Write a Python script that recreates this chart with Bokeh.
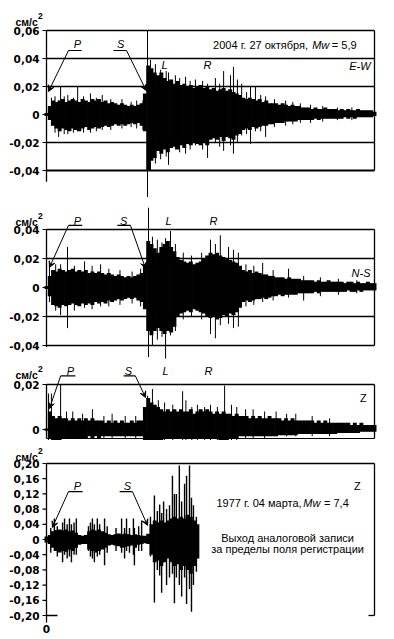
from bokeh.plotting import figure
from bokeh.layouts import column
from bokeh.models import Range1d, Label, Arrow, VeeHead
from bokeh.core.properties import value
from bokeh.embed import file_html
from bokeh.resources import INLINE

# ---------------- data (time in s, acceleration in cm/s^2) ----------------
t_grid = list(range(0, 101))

ew_hi = [0.001, 0.006, 0.010, 0.009, 0.010, 0.011, 0.009, 0.010, 0.011, 0.010,
         0.009, 0.011, 0.010, 0.009, 0.011, 0.010, 0.011, 0.009, 0.010, 0.008,
         0.009, 0.008, 0.007, 0.008, 0.007, 0.006, 0.007, 0.006, 0.007, 0.008,
         0.015, 0.035, 0.033, 0.030, 0.028, 0.030, 0.026, 0.024, 0.025, 0.022,
         0.024, 0.021, 0.022, 0.020, 0.021, 0.019, 0.020, 0.021, 0.019, 0.020,
         0.018, 0.019, 0.017, 0.018, 0.019, 0.017, 0.018, 0.016, 0.015, 0.014,
         0.012, 0.011, 0.012, 0.011, 0.010, 0.011, 0.009, 0.010, 0.008, 0.008,
         0.008, 0.007, 0.008, 0.007, 0.006, 0.007, 0.006, 0.006, 0.005, 0.005,
         0.005, 0.004, 0.005, 0.004, 0.004, 0.005, 0.004, 0.004, 0.004, 0.003,
         0.004, 0.003, 0.004, 0.003, 0.003, 0.004, 0.003, 0.003, 0.003, 0.003, 0.002]
ew_lo = [-0.001, -0.004, -0.008, -0.010, -0.012, -0.010, -0.011, -0.012, -0.010, -0.011,
         -0.012, -0.010, -0.009, -0.011, -0.010, -0.009, -0.010, -0.009, -0.008, -0.009,
         -0.008, -0.007, -0.008, -0.007, -0.008, -0.007, -0.006, -0.007, -0.006, -0.008,
         -0.012, -0.040, -0.033, -0.031, -0.026, -0.028, -0.025, -0.027, -0.024, -0.023,
         -0.025, -0.022, -0.024, -0.021, -0.022, -0.020, -0.021, -0.022, -0.020, -0.022,
         -0.018, -0.017, -0.018, -0.016, -0.019, -0.016, -0.017, -0.018, -0.015, -0.014,
         -0.011, -0.010, -0.011, -0.009, -0.010, -0.009, -0.008, -0.008, -0.007, -0.007,
         -0.006, -0.006, -0.006, -0.005, -0.005, -0.005, -0.005, -0.004, -0.004, -0.004,
         -0.004, -0.004, -0.003, -0.004, -0.003, -0.003, -0.003, -0.003, -0.003, -0.003,
         -0.003, -0.002, -0.003, -0.002, -0.003, -0.002, -0.002, -0.002, -0.002, -0.002, -0.001]
ew_spike_t = [1.5, 2.6, 3.7, 4.3, 5.4, 6.5, 8.2, 9.5, 11.3, 13.4, 15.2, 17.0, 19.6, 23.0,
              25.8, 27.5, 29.4, 30.8, 31.7, 33.2, 34.8, 36.5, 37.2, 39.3, 40.6, 42.4, 43.8,
              45.4, 47.6, 49.1, 51.5, 52.8, 54.0, 56.1, 57.0, 58.2, 59.5, 61.0, 62.2,
              63.7, 65.3, 66.8, 69.5, 72.9, 75.1, 77.4, 80.5, 84.2, 88.7, 93.1]
ew_spike_hi = [0.012, 0.013, 0.010, 0.020, 0.013, 0.014, 0.012, 0.020, 0.013, 0.015,
               0.012, 0.014, 0.011, 0.011, 0.009, 0.010, 0.010, 0.060, 0.039, 0.036,
               0.032, 0.031, 0.030, 0.028, 0.026, 0.027, 0.024, 0.025, 0.024, 0.022,
               0.026, 0.022, 0.031, 0.028, 0.034, 0.025, 0.022, 0.016, 0.020, 0.020,
               0.014, 0.013, 0.011, 0.010, 0.009, 0.008, 0.007, 0.006, 0.005, 0.005]
ew_spike_lo = [-0.008, -0.013, -0.016, -0.012, -0.014, -0.014, -0.013, -0.012, -0.013, -0.013,
               -0.012, -0.011, -0.011, -0.010, -0.009, -0.010, -0.011, -0.059, -0.040, -0.035,
               -0.032, -0.030, -0.036, -0.025, -0.027, -0.028, -0.025, -0.022, -0.025, -0.031,
               -0.020, -0.023, -0.026, -0.022, -0.028, -0.020, -0.015, -0.014, -0.021, -0.012,
               -0.012, -0.016, -0.009, -0.008, -0.007, -0.006, -0.006, -0.005, -0.004, -0.004]

ns_hi = [0.001, 0.008, 0.012, 0.011, 0.013, 0.012, 0.011, 0.012, 0.013, 0.011,
         0.012, 0.011, 0.012, 0.010, 0.011, 0.010, 0.011, 0.010, 0.009, 0.010,
         0.009, 0.008, 0.009, 0.008, 0.007, 0.008, 0.007, 0.008, 0.009, 0.010,
         0.016, 0.032, 0.030, 0.027, 0.024, 0.028, 0.030, 0.032, 0.028, 0.025,
         0.021, 0.019, 0.018, 0.017, 0.018, 0.016, 0.017, 0.018, 0.020, 0.022,
         0.024, 0.023, 0.024, 0.022, 0.021, 0.020, 0.019, 0.018, 0.017, 0.015,
         0.012, 0.011, 0.012, 0.010, 0.011, 0.010, 0.009, 0.009, 0.008, 0.008,
         0.007, 0.007, 0.007, 0.006, 0.007, 0.006, 0.006, 0.006, 0.005, 0.005,
         0.005, 0.005, 0.004, 0.005, 0.004, 0.004, 0.005, 0.004, 0.004, 0.004,
         0.004, 0.003, 0.004, 0.004, 0.003, 0.004, 0.003, 0.003, 0.004, 0.003, 0.003]
ns_lo = [-0.001, -0.006, -0.012, -0.013, -0.014, -0.012, -0.013, -0.012, -0.011, -0.012,
         -0.013, -0.011, -0.012, -0.011, -0.012, -0.010, -0.011, -0.010, -0.011, -0.009,
         -0.010, -0.009, -0.008, -0.009, -0.008, -0.007, -0.008, -0.007, -0.009, -0.010,
         -0.015, -0.030, -0.033, -0.030, -0.028, -0.030, -0.032, -0.030, -0.031, -0.027,
         -0.020, -0.018, -0.017, -0.016, -0.017, -0.015, -0.016, -0.017, -0.018, -0.020,
         -0.021, -0.020, -0.022, -0.021, -0.019, -0.020, -0.018, -0.019, -0.017, -0.014,
         -0.010, -0.009, -0.010, -0.009, -0.008, -0.008, -0.007, -0.008, -0.007, -0.006,
         -0.006, -0.005, -0.006, -0.005, -0.005, -0.005, -0.005, -0.004, -0.004, -0.004,
         -0.004, -0.004, -0.003, -0.004, -0.003, -0.003, -0.003, -0.003, -0.003, -0.003,
         -0.003, -0.003, -0.002, -0.003, -0.003, -0.002, -0.003, -0.002, -0.002, -0.002, -0.002]
ns_spike_t = [0.9, 2.8, 4.3, 6.4, 8.5, 11.6, 13.9, 16.5, 19.0, 22.4, 26.1, 28.7, 31.1, 32.3,
              33.8, 35.2, 36.3, 37.8, 39.3, 41.7, 44.2, 47.3, 50.0, 51.5, 53.0, 55.5, 57.0,
              58.5, 60.8, 63.2, 65.9, 69.1, 73.8, 78.4, 83.5, 89.0, 94.6]
ns_spike_hi = [0.015, 0.016, 0.016, 0.028, 0.015, 0.018, 0.015, 0.016, 0.013, 0.012,
               0.011, 0.013, 0.055, 0.035, 0.033, 0.031, 0.034, 0.039, 0.030, 0.024,
               0.022, 0.024, 0.033, 0.030, 0.036, 0.028, 0.026, 0.024, 0.016, 0.015,
               0.017, 0.012, 0.013, 0.008, 0.007, 0.006, 0.005]
ns_spike_lo = [-0.010, -0.016, -0.019, -0.028, -0.016, -0.014, -0.015, -0.013, -0.013, -0.012,
               -0.011, -0.013, -0.048, -0.040, -0.036, -0.034, -0.049, -0.033, -0.030, -0.022,
               -0.020, -0.022, -0.032, -0.035, -0.026, -0.025, -0.028, -0.027, -0.013, -0.012,
               -0.010, -0.009, -0.007, -0.009, -0.006, -0.005, -0.004]

z_hi = [0.0005, 0.008, 0.006, 0.005, 0.006, 0.005, 0.005, 0.004, 0.005, 0.004,
        0.005, 0.004, 0.005, 0.004, 0.005, 0.004, 0.004, 0.004, 0.003, 0.004,
        0.003, 0.004, 0.003, 0.004, 0.003, 0.003, 0.004, 0.003, 0.004, 0.004,
        0.010, 0.014, 0.012, 0.011, 0.010, 0.009, 0.008, 0.009, 0.008, 0.009,
        0.008, 0.009, 0.008, 0.008, 0.009, 0.007, 0.008, 0.009, 0.008, 0.009,
        0.008, 0.007, 0.008, 0.007, 0.008, 0.007, 0.007, 0.006, 0.007, 0.006,
        0.006, 0.006, 0.005, 0.006, 0.005, 0.006, 0.005, 0.005, 0.006, 0.005,
        0.005, 0.005, 0.004, 0.005, 0.004, 0.005, 0.004, 0.004, 0.004, 0.004,
        0.004, 0.004, 0.003, 0.004, 0.003, 0.004, 0.003, 0.003, 0.003, 0.003,
        0.003, 0.003, 0.003, 0.002, 0.003, 0.002, 0.003, 0.002, 0.002, 0.002, 0.002]
z_lo = [-0.0005, -0.004, -0.005, -0.005, -0.005, -0.004, -0.004, -0.004, -0.004, -0.004,
        -0.004, -0.004, -0.004, -0.003, -0.004, -0.003, -0.004, -0.003, -0.003, -0.003,
        -0.003, -0.003, -0.003, -0.003, -0.003, -0.003, -0.003, -0.003, -0.003, -0.003,
        -0.005, -0.005, -0.005, -0.005, -0.005, -0.005, -0.004, -0.004, -0.004, -0.004,
        -0.004, -0.004, -0.004, -0.004, -0.004, -0.004, -0.004, -0.004, -0.004, -0.004,
        -0.004, -0.004, -0.004, -0.005, -0.005, -0.005, -0.004, -0.004, -0.004, -0.003,
        -0.003, -0.003, -0.003, -0.003, -0.003, -0.003, -0.003, -0.003, -0.003, -0.003,
        -0.003, -0.0025, -0.0025, -0.0025, -0.0025, -0.0025, -0.0025, -0.002, -0.002, -0.002,
        -0.002, -0.002, -0.002, -0.002, -0.002, -0.002, -0.002, -0.002, -0.002, -0.0015,
        -0.0015, -0.0015, -0.0015, -0.0015, -0.0015, -0.0015, -0.001, -0.001, -0.001, -0.001, -0.001]
z_spike_t = [0.6, 1.5, 4.3, 6.1, 8.0, 11.0, 14.0, 17.5, 20.0, 24.0, 27.2, 30.8, 32.3, 34.1,
             36.0, 38.5, 41.5, 42.5, 44.3, 46.0, 48.2, 50.0, 52.1, 54.3, 56.4, 58.0, 60.7,
             63.0, 66.5, 70.0, 73.2, 76.0, 81.0, 86.3]
z_spike_hi = [0.016, 0.016, 0.020, 0.008, 0.008, 0.007, 0.009, 0.006, 0.007, 0.006, 0.006,
              0.015, 0.018, 0.013, 0.012, 0.011, 0.017, 0.013, 0.010, 0.011, 0.010, 0.011,
              0.010, 0.0195, 0.011, 0.010, 0.009, 0.009, 0.008, 0.008, 0.007, 0.007, 0.006,
              0.005]
z_spike_lo = [-0.005, -0.005, -0.005, -0.004, -0.004, -0.004, -0.004, -0.004, -0.004, -0.004,
              -0.004, -0.005, -0.005, -0.005, -0.005, -0.005, -0.005, -0.005, -0.005, -0.005,
              -0.005, -0.005, -0.005, -0.005, -0.005, -0.005, -0.004, -0.004, -0.004, -0.003,
              -0.003, -0.003, -0.003, -0.003]

t77_grid = list(range(0, 47))
z77_hi = [0.008, 0.012, 0.022, 0.025, 0.026, 0.024, 0.026, 0.022, 0.024, 0.018,
          0.012, 0.010, 0.012, 0.022, 0.026, 0.024, 0.026, 0.022, 0.018, 0.014,
          0.012, 0.014, 0.016, 0.014, 0.016, 0.014, 0.012, 0.014, 0.012, 0.010,
          0.010, 0.015, 0.040, 0.050, 0.045, 0.050, 0.045, 0.050, 0.055, 0.060,
          0.055, 0.060, 0.055, 0.065, 0.060, 0.050, 0.040]
z77_lo = [-0.008, -0.012, -0.022, -0.030, -0.034, -0.030, -0.032, -0.026, -0.030, -0.022,
          -0.014, -0.012, -0.012, -0.026, -0.030, -0.034, -0.030, -0.026, -0.022, -0.016,
          -0.014, -0.016, -0.018, -0.022, -0.020, -0.018, -0.016, -0.022, -0.014, -0.012,
          -0.010, -0.012, -0.040, -0.060, -0.055, -0.070, -0.060, -0.050, -0.060, -0.070,
          -0.065, -0.080, -0.070, -0.080, -0.090, -0.070, -0.050]
z77_spike_t = [1.3, 2.4, 3.3, 4.9, 5.5, 6.3, 7.0, 7.6, 8.4, 9.1, 12.8, 13.4, 14.0, 14.6,
               15.5, 16.2, 17.7, 18.5, 21.2, 22.9, 23.8, 24.4, 25.3, 26.5, 26.8, 28.1,
               29.0, 31.7, 32.9, 33.8, 34.5, 35.1, 35.7, 36.6, 37.5, 38.4, 39.0, 39.6,
               40.5, 41.2, 42.1, 42.7, 43.6, 44.2, 44.8, 45.7]
z77_spike_hi = [0.030, 0.055, 0.035, 0.045, 0.055, 0.040, 0.055, 0.040, 0.045, 0.055, 0.035,
                0.045, 0.055, 0.040, 0.055, 0.040, 0.055, 0.035, 0.030, 0.055, 0.030, 0.055,
                0.030, 0.055, 0.030, 0.035, 0.050, 0.060, 0.116, 0.075, 0.092, 0.070, 0.100,
                0.080, 0.090, 0.168, 0.120, 0.120, 0.195, 0.100, 0.147, 0.168, 0.195, 0.110,
                0.090, 0.060]
z77_spike_lo = [-0.035, -0.030, -0.045, -0.060, -0.040, -0.050, -0.045, -0.060, -0.040, -0.040,
                -0.030, -0.045, -0.050, -0.060, -0.045, -0.040, -0.068, -0.035, -0.030, -0.035,
                -0.050, -0.030, -0.035, -0.040, -0.068, -0.030, -0.030, -0.045, -0.166, -0.080,
                -0.095, -0.140, -0.060, -0.120, -0.100, -0.090, -0.168, -0.100, -0.120, -0.150,
                -0.100, -0.170, -0.130, -0.190, -0.120, -0.085]

ew_ticks = [0.06, 0.04, 0.02, 0, -0.02, -0.04]
ns_ticks = [0.04, 0.02, 0, -0.02, -0.04]
z_ticks = [0.02, 0]
z77_ticks = [0.20, 0.16, 0.12, 0.08, 0.04, 0, -0.04, -0.08, -0.12, -0.16, -0.20]
time_ticks = [0]

T_END = 100
PX_PER_S = 3.28          # horizontal scale: 1 s of record = 3.28 px
LEFT_PX = 46             # where t = 0 sits
FONT = "Liberation Sans"
TICKFONT = "DejaVu Sans"
TICK_LEN = 4 / PX_PER_S
LAB_GAP = 7 / PX_PER_S


def tick_text(v):
    return "0" if abs(v) < 1e-12 else f"{v:.2f}".replace(".", ",")


def make_fig(height, ystart, yend):
    x0 = -LEFT_PX / PX_PER_S
    p = figure(width=394, height=height,
               x_range=Range1d(x0, x0 + 394 / PX_PER_S),
               y_range=Range1d(ystart, yend), x_axis_type=None, y_axis_type=None,
               output_backend="svg", toolbar_location=None, title=None,
               min_border=0)
    p.outline_line_color = None
    p.background_fill_color = "white"
    p.border_fill_color = "white"
    return p


def y_axis(p, ticks, bounds):
    p.line(x=[0, 0], y=list(bounds), line_color="black", line_width=1.3)
    p.segment(x0=[-TICK_LEN] * len(ticks), y0=ticks, x1=[0] * len(ticks), y1=ticks,
              line_color="black", line_width=1.2)
    p.text(x=[-LAB_GAP] * len(ticks), y=ticks, text=[tick_text(v) for v in ticks],
           text_font=value(TICKFONT), text_font_size="10.5px", text_font_style="bold",
           text_align="right", text_baseline="middle", text_color="black")


def units(p, y_base, y_sup):
    p.text(x=[-31 / PX_PER_S], y=[y_base], text=["см/с"], text_font=value(FONT),
           text_font_size="10.5px", text_font_style="bold", text_align="left",
           text_baseline="alphabetic", text_color="black")
    p.text(x=[-8.5 / PX_PER_S], y=[y_sup], text=["2"], text_font=value(FONT),
           text_font_size="8.5px", text_font_style="bold", text_align="left",
           text_baseline="alphabetic", text_color="black")


def wave(p, t, hi, lo, st, shi, slo, spike_w=1.0, core_w=1.2):
    p.vbar(x=t, width=core_w, top=hi, bottom=lo, fill_color="black", line_color=None)
    p.segment(x0=st, y0=slo, x1=st, y1=shi, line_color="black", line_width=spike_w)


def hlines(p, levels, width=1.3):
    for lv in levels:
        p.line(x=[0, T_END], y=[lv, lv], line_color="black", line_width=width)


def right_edge(p, lo, hi):
    p.line(x=[T_END, T_END], y=[lo, hi], line_color="black", line_width=1.3)


def txt(p, x, y, s, size="11px", style="normal", align="left", baseline="middle"):
    p.add_layout(Label(x=x, y=y, text=s, text_font=FONT, text_font_size=size,
                       text_font_style=style, text_align=align, text_baseline=baseline,
                       text_color="black"))


def phase(p, ul_x0, ul_x1, ul_y, tip_x, tip_y, from_left):
    p.line(x=[ul_x0, ul_x1], y=[ul_y, ul_y], line_color="black", line_width=1.2)
    sx = ul_x0 if from_left else ul_x1
    p.add_layout(Arrow(end=VeeHead(size=6, line_width=1, fill_color="black", line_color="black"),
                       x_start=sx, y_start=ul_y, x_end=tip_x, y_end=tip_y,
                       line_color="black", line_width=1))


# ---------------- panel 1 : E-W  (figure rows 0..200 px) ----------------
p1 = make_fig(200, (114 - 200) / 1400, 114 / 1400)
wave(p1, t_grid, ew_hi, ew_lo, ew_spike_t, ew_spike_hi, ew_spike_lo)
hlines(p1, [0.06, 0.04, 0.02, -0.02])
hlines(p1, [-0.04], width=2.2)
right_edge(p1, -0.04, 0.06)
y_axis(p1, ew_ticks, (-0.048, 0.06))
units(p1, 0.0664, 0.0707)
txt(p1, 9.45, 0.0507, "P", style="italic", align="center")
txt(p1, 22.6, 0.0507, "S", style="italic", align="center")
phase(p1, 6.7, 10.7, 0.0457, 0.6, 0.0164, True)
phase(p1, 20.4, 24.4, 0.0457, 30.4, 0.0171, False)
txt(p1, 36.0, 0.0357, "L", style="italic", align="center")
txt(p1, 49.1, 0.0357, "R", style="italic", align="center")
txt(p1, 50.8, 0.0493, "2004 г. 27 октября,")
txt(p1, 81.0, 0.0493, "Mw", style="italic")
txt(p1, 87.0, 0.0493, "= 5,9")
txt(p1, 98.8, 0.0343, "E-W", style="italic", align="right")

# ---------------- panel 2 : N-S  (rows 200..362 px) ----------------
p2 = make_fig(162, (287 - 362) / 1450, (287 - 200) / 1450)
wave(p2, t_grid, ns_hi, ns_lo, ns_spike_t, ns_spike_hi, ns_spike_lo)
hlines(p2, [0.04, 0.02, -0.02, -0.04])
right_edge(p2, -0.04, 0.04)
y_axis(p2, ns_ticks, (-0.041, 0.04))
units(p2, 0.0455, 0.0490)
txt(p2, 9.45, 0.0462, "P", style="italic", align="center")
txt(p2, 23.5, 0.0462, "S", style="italic", align="center")
phase(p2, 6.7, 10.9, 0.0428, 0.9, 0.0138, True)
phase(p2, 21.6, 25.6, 0.0428, 30.2, 0.0131, False)
txt(p2, 37.2, 0.0462, "L", style="italic", align="center")
txt(p2, 50.9, 0.0462, "R", style="italic", align="center")
txt(p2, 98.8, 0.0103, "N-S", style="italic", align="right")

# ---------------- panel 3 : Z  (rows 362..440 px) ----------------
p3 = make_fig(78, (429 - 440) / 2250, (429 - 362) / 2250)
wave(p3, t_grid, z_hi, z_lo, z_spike_t, z_spike_hi, z_spike_lo)
hlines(p3, [0.02])
hlines(p3, [-0.004], width=1.0)
right_edge(p3, -0.004, 0.02)
y_axis(p3, z_ticks, (-0.004, 0.02))
units(p3, 0.0244, 0.0268)
txt(p3, 7.3, 0.0262, "P", style="italic", align="center")
txt(p3, 25.0, 0.0262, "S", style="italic", align="center")
phase(p3, 4.3, 8.8, 0.0238, 0.9, 0.0093, True)
phase(p3, 23.5, 27.1, 0.0238, 30.2, 0.0142, False)
txt(p3, 36.3, 0.0262, "L", style="italic", align="center")
txt(p3, 49.4, 0.0262, "R", style="italic", align="center")
txt(p3, 96.6, 0.0138, "Z", align="center")

# ---------------- panel 4 : 1977 Z  (rows 440..639 px) ----------------
p4 = make_fig(199, (539 - 639) / 380, (539 - 440) / 380)
wave(p4, t77_grid, z77_hi, z77_lo, z77_spike_t, z77_spike_hi, z77_spike_lo, spike_w=1.4)
hlines(p4, [0.20])
right_edge(p4, -0.20, 0.20)
y_axis(p4, z77_ticks, (-0.2184, 0.20))
p4.line(x=[0, 11 / PX_PER_S], y=[-0.20, -0.20], line_color="black", line_width=1.3)
p4.line(x=[T_END - 6 / PX_PER_S, T_END], y=[-0.20, -0.20], line_color="black", line_width=1.3)
p4.text(x=time_ticks, y=[-0.2368] * len(time_ticks), text=[str(v) for v in time_ticks],
        text_font=value(TICKFONT), text_font_size="10.5px", text_font_style="bold",
        text_align="center", text_baseline="middle", text_color="black")
units(p4, 0.2184, 0.2330)
txt(p4, 9.45, 0.142, "P", style="italic", align="center")
txt(p4, 24.7, 0.142, "S", style="italic", align="center")
phase(p4, 6.7, 11.0, 0.126, 1.8, 0.0316, True)
phase(p4, 22.3, 26.2, 0.126, 30.8, 0.037, False)
txt(p4, 94.8, 0.142, "Z", align="center")
txt(p4, 51.8, 0.097, "1977 г. 04 марта,")
txt(p4, 78.3, 0.097, "Mw", style="italic")
txt(p4, 84.6, 0.097, "= 7,4")
txt(p4, 73.5, 0.005, "Выход аналоговой записи", align="center")
txt(p4, 73.5, -0.024, "за пределы поля регистрации", align="center")

layout = column(p1, p2, p3, p4)
open("out.html", "w").write(file_html(layout, INLINE))
